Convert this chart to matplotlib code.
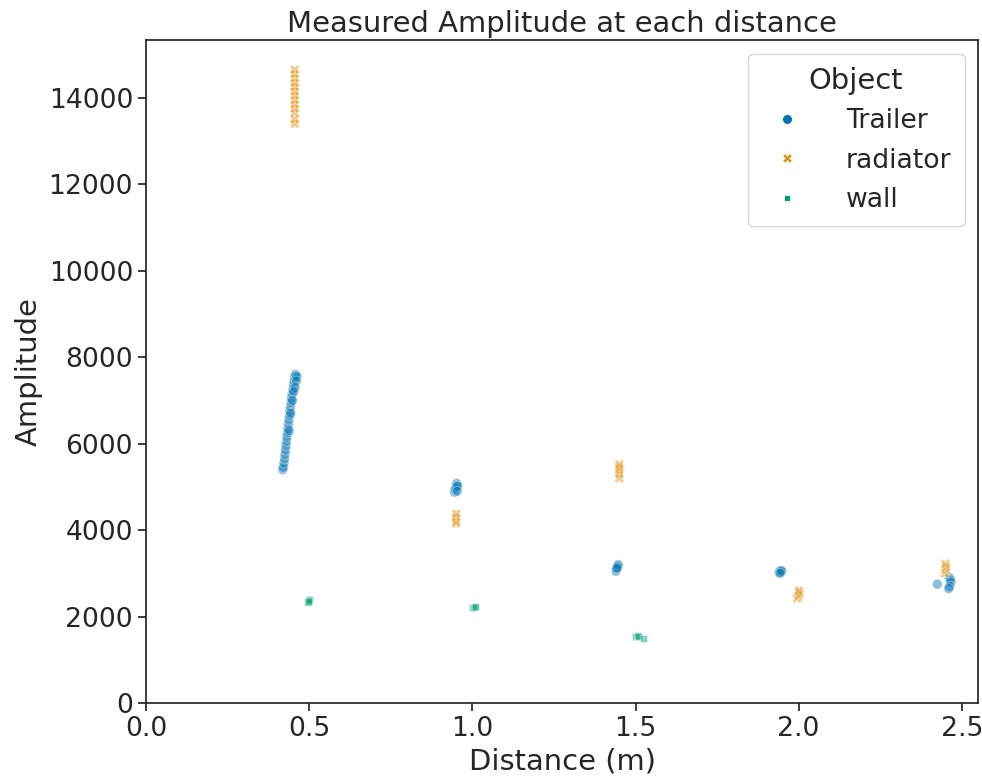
import matplotlib
matplotlib.use("Agg")
import matplotlib.pyplot as plt
import pandas as pd
import seaborn as sns

# Trailer readings (distance m, amplitude)
trailer_dist = [0.418, 0.420, 0.422, 0.424, 0.425, 0.427, 0.428, 0.430, 0.431, 0.433, 0.434,
                0.436, 0.437, 0.439, 0.440, 0.442, 0.444, 0.445, 0.447, 0.449, 0.451,
                0.453, 0.455, 0.458, 0.462, 0.460, 0.456, 0.452, 0.448, 0.443, 0.438,
                0.945, 0.947, 0.950, 0.952, 0.955, 0.953,
                1.440, 1.442, 1.445, 1.447, 1.443,
                1.940, 1.945, 1.948, 1.943,
                2.425, 2.462, 2.465, 2.467, 2.463, 2.460]
trailer_amp = [5400, 5450, 5550, 5650, 5750, 5850, 5950, 6050, 6150, 6250, 6350,
               6450, 6550, 6650, 6750, 6850, 6950, 7050, 7150, 7250, 7350,
               7450, 7550, 7600, 7550, 7450, 7300, 7200, 7000, 6700, 6300,
               4880, 4950, 5000, 5080, 5020, 4900,
               3050, 3100, 3150, 3200, 3120,
               3030, 3070, 3050, 3000,
               2750, 2900, 2850, 2800, 2700, 2650]

# radiator readings
radiator_dist = [0.455, 0.455, 0.455, 0.455, 0.455, 0.455, 0.455, 0.455, 0.455, 0.455,
                 0.455, 0.455, 0.455,
                 0.950, 0.950, 0.950, 0.950,
                 1.450, 1.450, 1.450, 1.450, 1.450,
                 1.995, 2.000, 2.003, 2.000,
                 2.448, 2.452, 2.452, 2.450]
radiator_amp = [13400, 13500, 13650, 13750, 13850, 13950, 14050, 14150, 14250, 14350,
                14450, 14550, 14650,
                4150, 4200, 4300, 4380,
                5200, 5300, 5380, 5450, 5520,
                2420, 2480, 2550, 2600,
                3000, 3080, 3150, 3220]

# wall readings
wall_dist = [0.495, 0.497, 0.499, 0.497,
             1.000, 1.005, 1.008,
             1.500, 1.505, 1.510, 1.525]
wall_amp = [2330, 2370, 2400, 2350,
            2200, 2220, 2230,
            1540, 1560, 1530, 1500]

df = pd.DataFrame({
    "Distance": trailer_dist + radiator_dist + wall_dist,
    "Amplitude": trailer_amp + radiator_amp + wall_amp,
    "Object": (["Trailer"] * len(trailer_dist) + ["radiator"] * len(radiator_dist)
               + ["wall"] * len(wall_dist)),
})

sns.set_theme(style="ticks", palette="colorblind", font_scale=1.74)
plt.rcParams['font.family'] = ['DejaVu Sans']

fig, ax = plt.subplots(figsize=(9.82, 7.76), dpi=100)
sns.scatterplot(data=df, x="Distance", y="Amplitude", hue="Object", style="Object",
                alpha=0.45, s=50, ax=ax)
ax.set_xlim(0, 2.55)
ax.set_ylim(0, 15330)
ax.set_title("Measured Amplitude at each distance")
ax.set_xlabel("Distance (m)")
ax.set_ylabel("Amplitude")
leg = ax.legend(title="Object", loc="upper right", markerscale=1.0,
                borderpad=0.5, handletextpad=1.2)
for h in leg.legend_handles:
    h.set_alpha(1)
fig.subplots_adjust(left=0.149, right=0.996, top=0.948, bottom=0.094)
fig.savefig("out.png")
